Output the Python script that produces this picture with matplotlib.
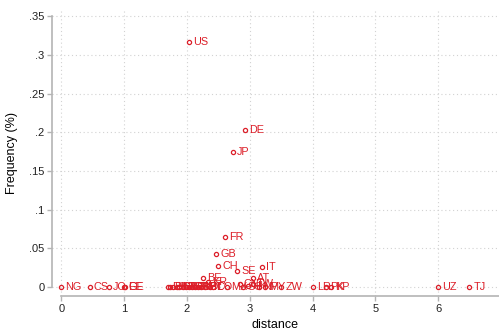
import numpy as np
import matplotlib
matplotlib.use('Agg')
import matplotlib.pyplot as plt

plt.rcParams['font.family'] = ['Liberation Sans', 'DejaVu Sans']

# country codes, distance, share of flows
countries = ['US', 'DE', 'JP', 'FR', 'GB', 'CH', 'IT', 'SE', 'AT', 'BE', 'KR',
             'CN', 'TW', 'NG', 'CS', 'JO', 'EE', 'GE',
             'ES', 'PL', 'HU', 'CZ', 'SK', 'RO', 'BG', 'GR', 'DK', 'FI', 'NO',
             'IE', 'PT', 'IL', 'CO', 'MX', 'SG', 'HK', 'NP', 'MY', 'ZW',
             'LR', 'PK', 'KP', 'UZ', 'TJ']
distance = [2.03, 2.92, 2.73, 2.60, 2.47, 2.50, 3.19, 2.80, 3.05, 2.25, 2.33,
            2.84, 3.05, 0.00, 0.45, 0.76, 1.00, 1.01,
            1.69, 1.73, 1.78, 1.84, 1.88, 1.93, 1.98, 2.03, 2.08, 2.13, 2.18,
            2.23, 2.28, 2.36, 2.41, 2.63, 2.90, 2.97, 3.15, 3.25, 3.50,
            4.00, 4.22, 4.30, 6.00, 6.50]
freq = [0.317, 0.203, 0.175, 0.065, 0.043, 0.027, 0.026, 0.021, 0.012, 0.012, 0.007,
        0.004, 0.004, 0.0, 0.0, 0.0, 0.0, 0.0,
        0.0, 0.0, 0.0, 0.0, 0.0, 0.0, 0.0, 0.0, 0.0, 0.0, 0.0,
        0.0, 0.0, 0.0, 0.0, 0.0, 0.0, 0.001, 0.0, 0.0, 0.0,
        0.0, 0.0, 0.0, 0.0, 0.0]

red = '#dc1e28'
grey = '#b4b4b4'

fig = plt.figure(figsize=(4.99, 3.31), dpi=100)
ax = fig.add_axes([52 / 499, 35 / 331, 447 / 499, 287 / 331])

ax.plot(distance, freq, 'o', ms=3.0, mfc='none', mec=red, mew=0.9, zorder=3)
for c, x, y in zip(countries, distance, freq):
    ax.annotate(c, (x, y), xytext=(3.0, 0), textcoords='offset points',
                va='center', ha='left', fontsize=7.8, color=red, zorder=4)

ax.set_xlim(-0.15, 6.97)
ax.set_ylim(-0.0116, 0.3597)
ax.set_xticks(range(7))
yt = np.arange(0, 0.36, 0.05)
ax.set_yticks(yt)
ax.set_yticklabels(['0'] + [('%g' % v).lstrip('0') for v in yt[1:]])

ax.grid(True, color='#d2d2d2', linestyle=(0, (1, 2.5)), linewidth=0.8)
ax.set_axisbelow(True)

for s in ['top', 'right']:
    ax.spines[s].set_visible(False)
ax.spines['left'].set_bounds(0, 0.35)
ax.spines['bottom'].set_bounds(0, 6.97)
for s in ['left', 'bottom']:
    ax.spines[s].set_color(grey)
    ax.spines[s].set_linewidth(1.2)
ax.tick_params(colors=grey, labelcolor='#222222', labelsize=8, length=3.5,
               width=1.0, pad=2)

ax.set_xlabel('distance', fontsize=9, labelpad=4)
ax.set_ylabel('Frequency (%)', fontsize=9, labelpad=8)

fig.savefig('out.png', dpi=100)
